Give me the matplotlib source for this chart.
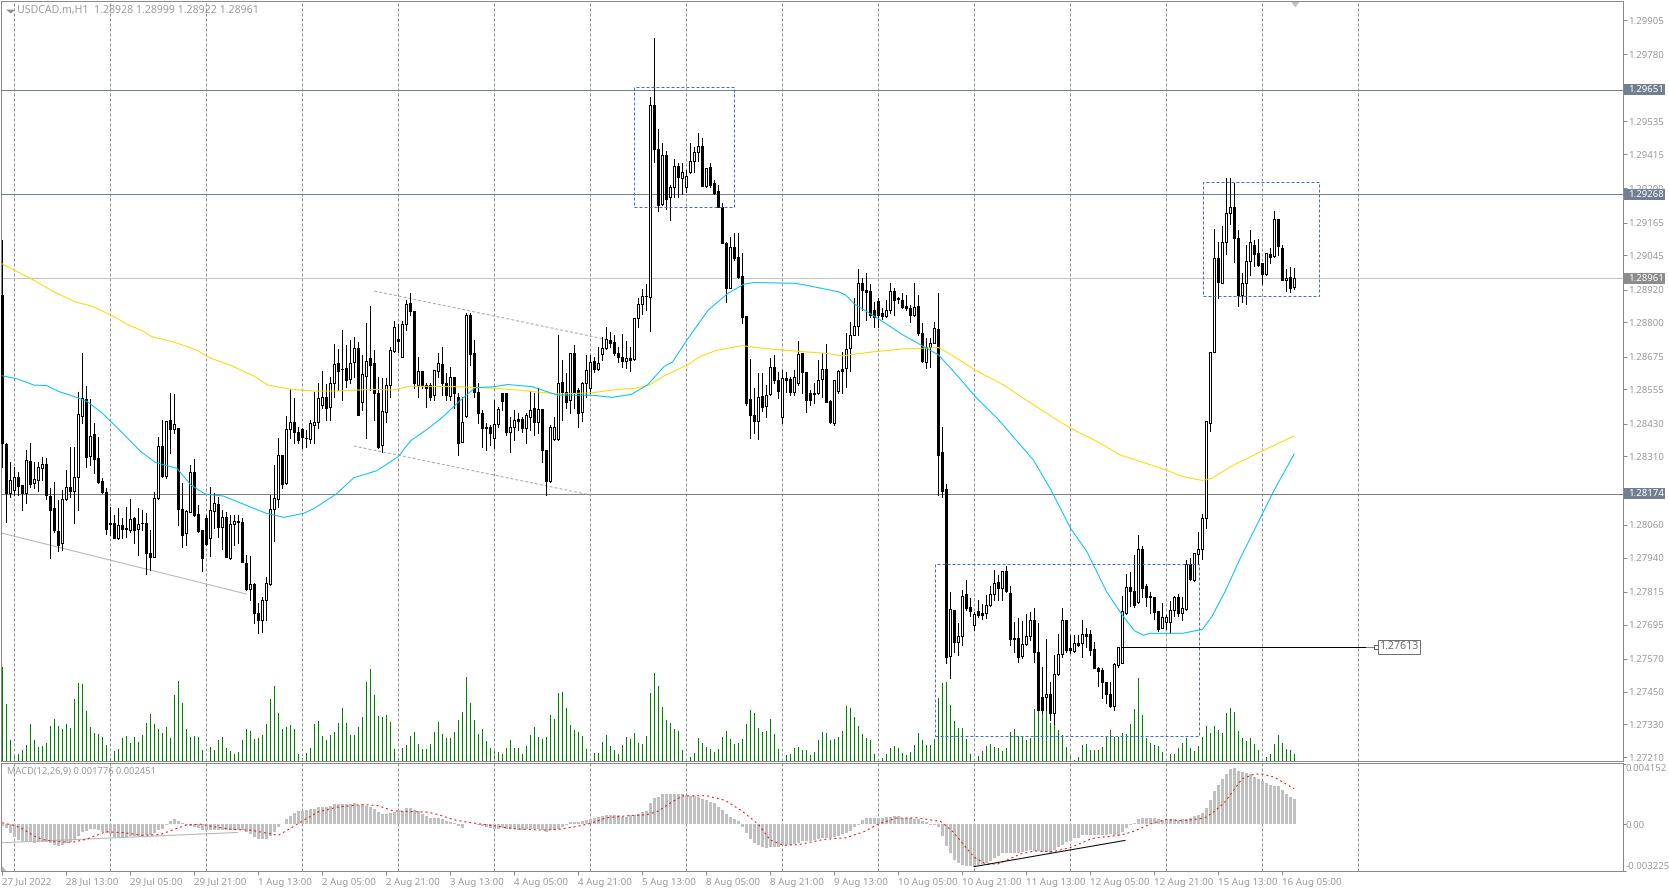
import matplotlib

matplotlib.use("Agg")
import matplotlib.pyplot as plt
import numpy as np
from matplotlib.patches import Rectangle

plt.rcParams["font.family"] = ["Noto Sans", "DejaVu Sans"]

PRICE_BASE = 1.27  # candle values below are in points above this price

OPEN_PTS = [
    1900, 1354, 1175, 1187, 1233, 1205, 1175, 1293, 1211, 1223, 1269, 1284, 1167, 1120, 1038, 992, 1156, 1197, 1184, 1233,
    1459, 1519, 1311, 1392, 1303, 1220, 1181, 1063, 1065, 1010, 1058, 1046, 1041, 1083, 1044, 1065, 1065, 955, 943, 1157,
    1348, 1238, 1443, 1409, 1413, 1116, 1029, 1108, 1252, 1098, 1041, 1083, 1010, 1111, 1136, 1053, 1087, 940, 1061, 1070,
    1069, 919, 825, 843, 736, 712, 785, 843, 1116, 1153, 1315, 1211, 1409, 1435, 1399, 1409, 1378, 1374, 1425, 1437,
    1498, 1526, 1489, 1577, 1650, 1628, 1632, 1593, 1654, 1705, 1510, 1605, 1669, 1650, 1541, 1352, 1474, 1571, 1697, 1739,
    1675, 1793, 1872, 1842, 1571, 1622, 1571, 1571, 1534, 1623, 1648, 1577, 1532, 1599, 1528, 1364, 1459, 1827, 1687, 1547,
    1470, 1419, 1419, 1376, 1427, 1541, 1541, 1400, 1416, 1445, 1445, 1413, 1455, 1486, 1437, 1482, 1333, 1221, 1372, 1372,
    1581, 1547, 1516, 1687, 1553, 1474, 1577, 1559, 1659, 1630, 1683, 1705, 1736, 1727, 1687, 1672, 1660, 1669, 1665, 1818,
    1866, 1895, 1894, 2597, 2434, 2232, 2411, 2257, 2296, 2373, 2329, 2296, 2349, 2391, 2424, 2445, 2300, 2367, 2309, 2279,
    2223, 2089, 1925, 2077, 2038, 1971, 1823, 1520, 1461, 1441, 1532, 1495, 1538, 1636, 1589, 1453, 1598, 1593, 1547, 1577,
    1687, 1617, 1541, 1543, 1541, 1592, 1628, 1513, 1433, 1550, 1631, 1632, 1705, 1754, 1788, 1943, 1918, 1915, 1845, 1878,
    1833, 1825, 1845, 1915, 1888, 1882, 1860, 1854, 1827, 1861, 1760, 1656, 1709, 1726, 1776, 1325, 1189, 580, 748, 632,
    654, 807, 760, 693, 745, 736, 736, 766, 806, 849, 830, 891, 809, 643, 645, 581, 623, 653, 712, 593,
    429, 429, 440, 370, 513, 586, 712, 608, 599, 626, 626, 659, 659, 606, 535, 529, 484, 441, 397, 547,
    556, 738, 831, 818, 776, 971, 836, 799, 795, 745, 684, 703, 705, 748, 795, 738, 751, 915, 858, 952,
    970, 1083, 1433, 1693, 2034, 1945, 2093, 2199, 2221, 2107, 1901, 1945, 2026, 2085, 2053, 2016, 1976, 2050, 2043, 2177,
    2074, 1957, 1965, 1928,
]
HIGH_PTS = [
    2101, 1358, 1290, 1272, 1254, 1205, 1333, 1358, 1290, 1290, 1309, 1303, 1193, 1215, 1150, 1187, 1260, 1345, 1345, 1546,
    1687, 1567, 1520, 1431, 1382, 1230, 1193, 1126, 1096, 1120, 1083, 1126, 1154, 1090, 1122, 1114, 1102, 1041, 1181, 1380,
    1443, 1441, 1541, 1537, 1413, 1214, 1114, 1278, 1299, 1132, 1041, 1096, 1197, 1175, 1163, 1114, 1108, 1096, 1096, 1096,
    1083, 949, 947, 848, 773, 797, 870, 1169, 1278, 1378, 1315, 1458, 1555, 1522, 1419, 1413, 1406, 1443, 1547, 1577,
    1622, 1573, 1601, 1720, 1702, 1772, 1717, 1736, 1748, 1730, 1681, 1799, 1860, 1699, 1601, 1595, 1598, 1711, 1806, 1794,
    1806, 1882, 1906, 1842, 1672, 1622, 1577, 1577, 1626, 1690, 1711, 1614, 1638, 1601, 1541, 1528, 1833, 1836, 1736, 1577,
    1480, 1431, 1425, 1516, 1492, 1541, 1541, 1455, 1480, 1467, 1455, 1467, 1550, 1543, 1559, 1482, 1333, 1425, 1455, 1754,
    1662, 1614, 1687, 1717, 1559, 1583, 1681, 1681, 1675, 1711, 1748, 1784, 1766, 1754, 1711, 1758, 1733, 1711, 1815, 1888,
    1921, 1939, 2623, 2841, 2506, 2458, 2427, 2302, 2396, 2382, 2382, 2357, 2455, 2443, 2491, 2473, 2365, 2382, 2321, 2302,
    2235, 2095, 2113, 2126, 2126, 2053, 1823, 1666, 1559, 1614, 1614, 1571, 1671, 1681, 1620, 1626, 1620, 1601, 1626, 1733,
    1687, 1620, 1553, 1577, 1662, 1687, 1720, 1516, 1589, 1626, 1693, 1760, 1803, 1888, 1994, 1961, 1979, 1939, 1876, 1888,
    1851, 1882, 1943, 1925, 1894, 1906, 1900, 1864, 1943, 1900, 1799, 1742, 1742, 1803, 1906, 1419, 1208, 814, 748, 699,
    821, 858, 791, 742, 785, 770, 803, 837, 894, 876, 892, 910, 836, 706, 718, 709, 734, 742, 754, 699,
    541, 642, 486, 584, 660, 754, 712, 657, 657, 657, 712, 681, 675, 632, 541, 535, 486, 486, 553, 614,
    799, 880, 886, 949, 1023, 982, 843, 815, 797, 745, 773, 730, 781, 799, 805, 797, 931, 937, 955, 1035,
    1099, 1438, 1693, 2141, 2093, 2153, 2330, 2328, 2309, 2138, 1979, 2083, 2138, 2101, 2105, 2016, 2053, 2071, 2207, 2177,
    2083, 1995, 2003, 1999,
]
LOW_PTS = [
    1272, 1071, 1162, 1169, 1169, 1114, 1138, 1197, 1193, 1184, 1223, 1156, 939, 1034, 965, 967, 1150, 1162, 1067, 1114,
    1431, 1272, 1278, 1248, 1211, 1175, 1026, 1022, 1010, 1007, 1010, 1016, 1035, 992, 949, 1041, 880, 894, 943, 1153,
    1236, 1230, 1321, 1394, 1059, 980, 986, 1108, 1092, 1035, 891, 986, 946, 1047, 1016, 971, 943, 933, 986, 992,
    923, 821, 785, 702, 663, 667, 712, 840, 1002, 1124, 1193, 1209, 1376, 1358, 1360, 1339, 1345, 1358, 1358, 1413,
    1486, 1443, 1443, 1528, 1553, 1516, 1565, 1577, 1601, 1461, 1480, 1376, 1553, 1443, 1339, 1327, 1437, 1528, 1693, 1693,
    1675, 1772, 1827, 1559, 1528, 1559, 1492, 1516, 1516, 1601, 1534, 1516, 1516, 1486, 1315, 1364, 1455, 1644, 1528, 1431,
    1345, 1333, 1352, 1339, 1419, 1480, 1388, 1327, 1370, 1406, 1400, 1358, 1406, 1388, 1394, 1291, 1169, 1218, 1370, 1370,
    1443, 1486, 1470, 1486, 1419, 1441, 1528, 1541, 1620, 1626, 1662, 1702, 1711, 1681, 1656, 1638, 1632, 1623, 1662, 1782,
    1831, 1845, 1770, 2388, 2209, 2229, 2215, 2174, 2260, 2260, 2270, 2278, 2348, 2351, 2389, 2299, 2296, 2296, 2270, 2224,
    2089, 1876, 1925, 2028, 1961, 1797, 1498, 1378, 1394, 1375, 1477, 1453, 1534, 1577, 1522, 1431, 1547, 1534, 1534, 1571,
    1541, 1474, 1498, 1504, 1537, 1528, 1508, 1431, 1425, 1541, 1541, 1565, 1623, 1754, 1754, 1845, 1809, 1821, 1784, 1784,
    1811, 1821, 1833, 1827, 1870, 1851, 1845, 1803, 1823, 1754, 1656, 1634, 1638, 1723, 1169, 1163, 553, 501, 596, 584,
    620, 748, 726, 675, 724, 714, 718, 764, 785, 785, 785, 815, 620, 596, 559, 571, 620, 638, 559, 382,
    370, 382, 346, 331, 510, 578, 596, 590, 596, 617, 578, 614, 584, 535, 472, 425, 407, 395, 382, 541,
    553, 734, 763, 760, 773, 797, 763, 736, 715, 673, 681, 679, 663, 726, 726, 712, 748, 858, 854, 921,
    933, 1049, 1404, 1693, 1888, 1943, 2050, 2160, 2022, 1861, 1876, 1867, 1973, 2007, 2007, 1940, 1973, 2018, 2040, 2046,
    1955, 1915, 1912, 1922,
]
CLOSE_PTS = [
    1358, 1177, 1223, 1233, 1201, 1175, 1297, 1209, 1226, 1270, 1284, 1169, 1114, 1041, 986, 1156, 1197, 1184, 1233, 1465,
    1522, 1309, 1385, 1300, 1218, 1181, 1046, 1066, 1013, 1059, 1043, 1048, 1080, 1041, 1063, 1066, 955, 943, 1157, 1348,
    1238, 1441, 1409, 1428, 1116, 1021, 1110, 1252, 1096, 1037, 937, 990, 1114, 1138, 1053, 1087, 943, 1061, 1074, 1073,
    925, 825, 842, 736, 712, 785, 846, 1116, 1157, 1315, 1208, 1409, 1435, 1399, 1370, 1382, 1379, 1431, 1437, 1522,
    1526, 1486, 1577, 1648, 1622, 1629, 1589, 1650, 1705, 1461, 1611, 1660, 1644, 1543, 1346, 1476, 1571, 1699, 1782, 1732,
    1794, 1867, 1842, 1577, 1622, 1571, 1562, 1528, 1626, 1650, 1580, 1534, 1599, 1541, 1360, 1435, 1827, 1684, 1547, 1470,
    1415, 1415, 1397, 1428, 1482, 1513, 1400, 1416, 1443, 1439, 1413, 1461, 1480, 1437, 1482, 1333, 1221, 1419, 1419, 1580,
    1547, 1510, 1687, 1547, 1467, 1577, 1626, 1656, 1628, 1653, 1705, 1738, 1726, 1687, 1672, 1660, 1669, 1664, 1815, 1866,
    1895, 1896, 2594, 2434, 2229, 2411, 2251, 2296, 2373, 2333, 2349, 2337, 2389, 2424, 2445, 2300, 2365, 2301, 2272, 2224,
    2089, 1925, 2077, 2034, 1965, 1821, 1504, 1461, 1441, 1528, 1492, 1534, 1636, 1589, 1550, 1595, 1589, 1547, 1599, 1683,
    1620, 1516, 1516, 1538, 1589, 1628, 1510, 1437, 1589, 1623, 1623, 1702, 1754, 1787, 1943, 1918, 1912, 1827, 1821, 1827,
    1825, 1845, 1915, 1882, 1884, 1858, 1854, 1827, 1858, 1760, 1659, 1711, 1723, 1781, 1315, 1185, 578, 751, 632, 653,
    799, 754, 745, 734, 730, 730, 766, 807, 846, 830, 890, 818, 641, 645, 578, 623, 653, 712, 593, 382,
    382, 440, 370, 513, 586, 712, 602, 602, 626, 620, 659, 654, 602, 537, 526, 486, 440, 397, 551, 612,
    743, 831, 819, 766, 971, 827, 797, 795, 742, 680, 724, 724, 747, 797, 738, 754, 915, 860, 955, 970,
    1083, 1438, 1693, 2034, 1949, 2093, 2202, 2221, 2107, 1900, 1945, 2026, 2093, 2049, 2010, 1976, 2053, 2038, 2177, 2081,
    1957, 1963, 1927, 1961,
]
VOLUME = [
    282, 170, 63, 20, 22, 33, 48, 112, 63, 43, 45, 55, 105, 127, 105, 96, 112, 99, 187, 234,
    230, 150, 102, 85, 80, 72, 47, 10, 30, 37, 69, 76, 55, 72, 57, 77, 114, 142, 112, 95,
    85, 102, 70, 198, 240, 174, 95, 72, 75, 72, 33, 5, 42, 33, 62, 72, 38, 30, 20, 28,
    62, 96, 90, 65, 68, 78, 112, 187, 225, 144, 96, 103, 108, 97, 21, 8, 25, 39, 110, 120,
    75, 64, 78, 87, 115, 159, 115, 78, 78, 102, 132, 237, 276, 198, 135, 132, 138, 117, 37, 8,
    39, 48, 75, 87, 50, 36, 36, 50, 87, 117, 82, 68, 68, 87, 122, 147, 252, 174, 122, 80,
    95, 60, 40, 30, 28, 22, 40, 63, 40, 38, 20, 45, 77, 102, 73, 67, 72, 138, 125, 203,
    207, 159, 108, 92, 87, 75, 36, 5, 24, 24, 57, 78, 45, 32, 21, 48, 72, 66, 84, 54,
    51, 75, 204, 264, 225, 162, 123, 114, 96, 90, 33, 5, 12, 24, 69, 54, 42, 36, 27, 36,
    72, 90, 66, 51, 54, 66, 111, 153, 144, 99, 87, 90, 126, 81, 36, 5, 18, 21, 39, 42,
    33, 33, 18, 27, 63, 87, 84, 63, 66, 72, 90, 165, 159, 132, 105, 81, 69, 63, 21, 5,
    9, 21, 39, 45, 39, 24, 18, 27, 48, 84, 63, 48, 48, 66, 189, 234, 237, 168, 120, 99,
    99, 66, 21, 5, 15, 30, 45, 51, 42, 39, 30, 39, 87, 96, 75, 72, 63, 69, 156, 183,
    165, 150, 114, 120, 93, 78, 42, 18, 2, 12, 48, 51, 33, 33, 33, 42, 72, 93, 72, 72,
    84, 81, 111, 156, 249, 138, 69, 54, 48, 45, 27, 2, 21, 21, 39, 54, 69, 39, 30, 45,
    72, 105, 84, 105, 93, 84, 144, 159, 147, 90, 69, 60, 69, 51, 33, 2, 12, 21, 51, 78,
    54, 36, 33, 21,
]
MACD_HIST = [  # millionths
    -138, -299, -598, -874, -1104, -1173, -1196, -1219, -1288, -1219, -1219, -1242, -1334, -1426, -1495, -1449, -1334, -1219, -1035, -828,
    -552, -483, -345, -368, -414, -529, -621, -713, -874, -897, -897, -920, -828, -828, -851, -851, -782, -759, -644, -414,
    -322, -69, 207, 345, 207, 46, -69, -115, -184, -276, -414, -414, -391, -391, -391, -414, -414, -414, -437, -414,
    -414, -529, -713, -874, -1012, -1012, -1012, -828, -552, -230, 23, 322, 575, 805, 897, 943, 989, 1035, 1035, 1196,
    1196, 1196, 1265, 1380, 1380, 1403, 1403, 1403, 1449, 1357, 1311, 1265, 1196, 1081, 874, 713, 713, 805, 874, 989,
    897, 1104, 1104, 1012, 920, 713, 575, 414, 414, 414, 345, 230, 138, 92, -138, -253, -23, -23, 23, -69,
    -138, -207, -299, -368, -322, -276, -345, -368, -368, -391, -391, -368, -368, -345, -368, -414, -529, -437, -391, -345,
    -207, -46, 138, 138, 138, 230, 276, 345, 391, 506, 575, 621, 621, 621, 621, 529, 529, 644, 644, 736,
    851, 897, 1449, 1794, 1886, 2070, 2070, 2070, 2070, 2070, 2070, 2001, 1955, 1955, 1863, 1771, 1702, 1564, 1472, 1196,
    966, 736, 483, 345, 184, -230, -644, -1012, -1334, -1449, -1564, -1633, -1587, -1587, -1587, -1472, -1472, -1449, -1380, -1288,
    -1196, -1150, -1150, -1104, -1058, -966, -966, -989, -920, -828, -667, -621, -483, -230, -46, 276, 391, 391, 414, 391,
    437, 529, 529, 575, 575, 437, 437, 391, 368, 322, 207, 115, -46, -92, -184, -828, -1518, -2024, -2507, -2691,
    -2829, -2875, -2921, -2967, -2829, -2760, -2714, -2530, -2346, -2208, -1978, -1978, -1978, -1978, -1978, -1932, -1863, -1794, -1863, -1863,
    -1932, -1932, -1978, -1794, -1610, -1426, -1219, -1150, -989, -943, -759, -759, -759, -736, -736, -736, -736, -690, -736, -736,
    -552, -276, -69, 69, 368, 414, 414, 414, 414, 345, 299, 345, 345, 345, 299, 322, 322, 414, 575, 644,
    782, 1150, 1656, 2300, 2714, 3105, 3496, 3795, 3864, 3657, 3588, 3542, 3473, 3266, 3151, 2990, 2875, 2737, 2668, 2622,
    2346, 2116, 1909, 1776,
]
SIGNAL_BARS = [
    0, 3, 5, 8, 10, 13, 17.5, 21, 23, 26, 30.7, 35, 39.6, 43, 46, 49.5, 53, 57.5, 62, 66.5, 69, 72, 75.4, 79, 84, 90, 94,
    97.7, 102, 106.6, 110, 113, 117.3, 123, 128, 135, 139, 144, 147, 151, 157, 161, 164, 166.8, 170, 176, 180.7, 185, 189,
    192, 195.3, 199, 205.5, 211, 215.4, 219, 223.4, 228.8, 234.6, 237.7, 243, 246, 249, 254.6, 258, 262.7, 267, 272.5, 279,
    280, 283, 287.4, 291, 295, 300.5, 302.7, 305.7, 310, 313, 315, 318, 323,
]
SIGNAL_VALUES = [
    92, -92, -299, -828, -1058, -1196, -1265, -1058, -828, -529, -598, -782, -713, -368, -69, 0, -184, -368, -414, -644, -782, -299, 276, 851, 1196, 1357, 1288,
    920, 874, 828, 575, 299, 92, -115, -322, -414, -368, -138, 46, 437, 598, 644, 897, 1426, 1955, 1978, 1656, 897, 0,
    -1104, -1472, -1426, -1058, -943, -529, 0, 414, 437, 184, -529, -2300, -2783, -2760, -2070, -1863, -1909, -1633, -989, -782,
    -736, -483, 46, 322, 230, 414, 805, 1541, 3151, 3473, 3473, 3266, 2451,
]
MA_BLUE_BARS = [
    0, 3.9, 7.9, 11.1, 14.2, 18.2, 21.3, 24.9, 28.9, 34.7, 38.3, 43.7, 47.2, 50.8, 55.3, 60.2, 66, 70.4, 75.4, 78, 83.4, 87.9, 93.7,
    99, 102.1, 106.6, 110.2, 114.6, 118.2, 123.1, 126.3, 132.5, 138.8, 147.5, 152.4, 157.3, 161.3, 165.4, 167.6, 171.2, 176.5, 181.4,
    185.4, 188.1, 198.4, 202, 209.1, 210.9, 213.1, 218.9, 225.2, 230.5, 234.1, 238.6, 243.9, 248.8, 252.4, 257.8, 262.2, 267.1, 271.2,
    276.1, 280, 283, 285.3, 286.9, 295.2, 300.1, 302.4, 305.7, 309.7, 314.9, 318, 323,
]
MA_BLUE_PTS = [
    1605, 1593, 1571, 1569, 1547, 1528, 1510, 1470, 1413, 1327, 1288, 1266, 1205, 1172, 1165, 1136, 1102, 1087, 1102, 1120, 1171, 1232, 1258,
    1309, 1367, 1413, 1455, 1516, 1561, 1565, 1573, 1565, 1534, 1534, 1526, 1537, 1571, 1638, 1656, 1736, 1845, 1906,
    1940, 1946, 1943, 1933, 1912, 1900, 1867, 1815, 1754, 1711, 1681, 1608, 1519, 1449, 1388, 1297, 1187, 1047, 961,
    815, 730, 673, 656, 663, 663, 678, 724, 815, 943, 1096, 1187, 1319,
]
MA_GOLD_BARS = [
    0, 7.1, 12.9, 18.2, 22.7, 28, 31.6, 34.7, 37.4, 43.2, 48.6, 52.1, 57.5, 62.9, 66.4, 71.8, 78, 83.4, 92.3, 97.7, 102.1, 113.8, 122.7,
    128.9, 137, 139.5, 147.5, 153.8, 158.2, 161.8, 165.4, 171.2, 174.7, 178.8, 185, 190.4, 200.2, 206, 210, 218, 225.2, 234.1, 237.7,
    243, 250.6, 256, 263.1, 267.1, 273.4, 279.5, 284.7, 291, 295.2, 300.1, 302.4, 307.5, 315, 323,
]
MA_GOLD_PTS = [
    2014, 1961, 1912, 1876, 1858, 1821, 1790, 1772, 1748, 1727, 1699, 1669, 1641, 1604, 1571, 1556, 1549, 1549, 1555, 1553, 1567, 1565, 1559,
    1553, 1541, 1538, 1543, 1555, 1559, 1571, 1604, 1644, 1677, 1699, 1715, 1705, 1693, 1687, 1678, 1693, 1703, 1708, 1678,
    1628, 1569, 1516, 1449, 1413, 1367, 1315, 1291, 1260, 1236, 1222, 1230, 1276, 1330, 1385,
]

AXIS_PRICES = [
    1.29905, 1.29780, 1.29535, 1.29415, 1.29290, 1.29165, 1.29045, 1.28920, 1.28800, 1.28675, 1.28555, 1.28430,
    1.28310, 1.28060, 1.27940, 1.27815, 1.27695, 1.27570, 1.27450, 1.27330, 1.27210,
]
TIME_LABELS = [
    "27 Jul 2022", "28 Jul 13:00", "29 Jul 05:00", "29 Jul 21:00", "1 Aug 13:00", "2 Aug 05:00", "2 Aug 21:00",
    "3 Aug 13:00", "4 Aug 05:00", "4 Aug 21:00", "5 Aug 13:00", "8 Aug 05:00", "8 Aug 21:00", "9 Aug 13:00",
    "10 Aug 05:00", "10 Aug 21:00", "11 Aug 13:00", "12 Aug 05:00", "12 Aug 21:00", "15 Aug 13:00", "16 Aug 05:00",
]
LEVELS = [1.29651, 1.29268, 1.28961, 1.28174]
LEVEL_LINE_COLORS = ["#708090", "#708090", "#c0c0c0", "#808080"]
LEVEL_BOX_COLORS = ["#708090", "#708090", "#8c8c8c", "#708090"]
LEVEL_LABELS = ["1.29651", "1.29268", "1.28961", "1.28174"]

# left bar, right bar, top points, bottom points
BOX_LEFT = [158, 233.1, 300.1]
BOX_RIGHT = [183, 299.1, 329.1]
BOX_TOP = [2660, 915, 2315]
BOX_BOTTOM = [2224, 286, 1895]

TREND_SOLID = ([0, 61], [1029, 807])
TREND_DASH_UP = ([93, 151], [1915, 1738])
TREND_DASH_LOW = ([87.9, 147], [1348, 1169])
MACD_GREY_LINE = ([0, 58.8], [-1291, -577])
MACD_BLACK_LINE = ([243, 280.7], [-2950, -1130])
TARGET_PRICE = 1.27613
TARGET_BARS = (280, 341, 343.4)

DPI = 100
WIDTH, HEIGHT = 1669, 891
LEFT, RIGHT = 1.4, 1622.8
MAIN_TOP, MAIN_BOTTOM = 1.3, 761.0
MACD_TOP, MACD_BOTTOM = 763.0, 871.3
TEXT_GREY = "#9c9c9c"
FRAME_GREY = "#8a8a8a"
PX = 72 / DPI


def make_axes(top, bottom):
    rect = [LEFT / WIDTH, 1 - bottom / HEIGHT, (RIGHT - LEFT) / WIDTH, (bottom - top) / HEIGHT]
    return fig.add_axes(rect)


def pts_to_price(values):
    return PRICE_BASE + np.asarray(values, dtype=float) / 1e5


fig = plt.figure(figsize=(WIDTH / DPI, HEIGHT / DPI), dpi=DPI)
ax = make_axes(MAIN_TOP, MAIN_BOTTOM)
ax_vol = ax.twinx()
ax_macd = make_axes(MACD_TOP, MACD_BOTTOM)

xlim = (-0.2, (RIGHT - 2.2) / 4)
ax.set_xlim(xlim)
ax_macd.set_xlim(xlim)
ax.set_ylim(1.27196, 1.299745)
ax_vol.set_ylim(0, (MAIN_BOTTOM - MAIN_TOP) * 3)
ax_macd.set_ylim(-0.003275, 0.004244)

ax_vol.set_zorder(ax.get_zorder() - 1)
ax.patch.set_visible(False)
ax_vol.yaxis.set_visible(False)

# day separators
for bar in range(3, 340, 24):
    for a in (ax, ax_macd):
        a.axvline(bar, color="#909090", lw=PX, ls=(0, (3, 2)), zorder=1)

for price, color in zip(LEVELS, LEVEL_LINE_COLORS):
    ax.axhline(price, color=color, lw=PX, zorder=1)

xs = np.arange(len(OPEN_PTS))
opens = pts_to_price(OPEN_PTS)
highs = pts_to_price(HIGH_PTS)
lows = pts_to_price(LOW_PTS)
closes = pts_to_price(CLOSE_PTS)

ax_vol.vlines(np.arange(len(VOLUME)), 0, VOLUME, color="#008000", lw=PX, antialiased=False)

ax.vlines(xs, lows, highs, color="black", lw=PX, antialiased=False, zorder=3)
bull = closes >= opens
ax.bar(xs[bull], (closes - opens)[bull], bottom=opens[bull], width=0.5, facecolor="white",
       edgecolor="black", lw=PX, antialiased=False, zorder=4)
ax.bar(xs[~bull], (opens - closes)[~bull], bottom=closes[~bull], width=0.5, facecolor="black",
       edgecolor="black", lw=PX, antialiased=False, zorder=4)

ax.plot(MA_GOLD_BARS, pts_to_price(MA_GOLD_PTS), color="#ffd700", lw=PX, zorder=5)
ax.plot(MA_BLUE_BARS, pts_to_price(MA_BLUE_PTS), color="#00bfff", lw=PX, zorder=5)

ax.plot(TREND_SOLID[0], pts_to_price(TREND_SOLID[1]), color="#b4b4b4", lw=PX, zorder=2)
for bars, vals in (TREND_DASH_UP, TREND_DASH_LOW):
    ax.plot(bars, pts_to_price(vals), color="#a9a9a9", lw=PX, ls=(0, (3, 2)), zorder=2)

for left, right, top, bottom in zip(BOX_LEFT, BOX_RIGHT, BOX_TOP, BOX_BOTTOM):
    low = pts_to_price(bottom)
    ax.add_patch(Rectangle((left, low), right - left, pts_to_price(top) - low, fill=False,
                           edgecolor="#4169e1", lw=PX, ls=(0, (3, 2)), zorder=6))

# target line with its price tag
ax.plot(TARGET_BARS[:2], [TARGET_PRICE] * 2, color="black", lw=PX, zorder=6)
ax.plot(TARGET_BARS[1:], [TARGET_PRICE] * 2, color="#808080", lw=PX, zorder=6)
ax.plot(TARGET_BARS[2], TARGET_PRICE, marker="s", ms=2.2, mfc="white", mec="#606060", mew=PX, zorder=7)
ax.text(344.3, TARGET_PRICE, "1.27613", color="#6e6e6e", fontsize=7.6, ha="left", va="center", zorder=7,
        bbox=dict(boxstyle="square,pad=0.1", fc="white", ec="#707070", lw=PX))

# MACD panel
macd = np.asarray(MACD_HIST) / 1e6
ax_macd.bar(np.arange(len(macd)), macd, width=0.75, color="#c0c0c0", lw=0, antialiased=False, zorder=2)
ax_macd.plot(MACD_GREY_LINE[0], np.asarray(MACD_GREY_LINE[1]) / 1e6, color="#b4b4b4", lw=PX, zorder=3)
ax_macd.plot(SIGNAL_BARS, np.asarray(SIGNAL_VALUES) / 1e6, color="red", lw=PX, ls=(0, (2, 3)), zorder=4)
ax_macd.plot(MACD_BLACK_LINE[0], np.asarray(MACD_BLACK_LINE[1]) / 1e6, color="black", lw=PX, zorder=5)
ax_macd.fill([0, 0, 0.0031], [0, 0.055, 0], color="#b0b0b0", lw=0, transform=ax_macd.transAxes)

# frames and axis text
for a in (ax, ax_macd):
    for spine in a.spines.values():
        spine.set_color(FRAME_GREY)
        spine.set_linewidth(PX)
for spine in ax_vol.spines.values():
    spine.set_visible(False)

ax.set_xticks([])
ax.yaxis.tick_right()
ax.set_yticks(AXIS_PRICES, [f"{p:.5f}" for p in AXIS_PRICES])
ax.tick_params(axis="y", length=3, width=PX, color=FRAME_GREY, labelcolor=TEXT_GREY, labelsize=6.9, pad=0.5)

ax_macd.yaxis.tick_right()
ax_macd.set_yticks([0.004152, 0.0, -0.003225], ["0.004152", "0.00", "-0.003225"])
ax_macd.tick_params(axis="y", length=2, width=PX, color=FRAME_GREY, labelcolor=TEXT_GREY, labelsize=6.9, pad=0.3)
macd_labels = ax_macd.get_yticklabels()
macd_labels[0].set_verticalalignment("top")
macd_labels[2].set_verticalalignment("bottom")

ax_macd.set_xticks(range(0, 16 * len(TIME_LABELS), 16), TIME_LABELS)
ax_macd.tick_params(axis="x", length=3, width=PX, color=FRAME_GREY, labelcolor=TEXT_GREY, labelsize=7.0, pad=1.5)
for label in ax_macd.get_xticklabels():
    label.set_horizontalalignment("left")

# highlighted price tags on the right axis
tag_transform = ax.get_yaxis_transform()
tag_height = 11 * (ax.get_ylim()[1] - ax.get_ylim()[0]) / (MAIN_BOTTOM - MAIN_TOP)
for price, color, text in zip(LEVELS, LEVEL_BOX_COLORS, LEVEL_LABELS):
    ax.add_patch(Rectangle((1.0007, price - tag_height / 2), 41 / (RIGHT - LEFT), tag_height, transform=tag_transform,
                           facecolor=color, edgecolor="none", clip_on=False, zorder=7))
    ax.text(1.0033, price, text, transform=tag_transform, color="white", fontsize=6.9, ha="left", va="center",
            zorder=8, clip_on=False)

fig.text(17 / WIDTH, 1 - 10 / HEIGHT, "USDCAD.m,H1  1.28928 1.28999 1.28922 1.28961", color=TEXT_GREY,
         fontsize=7.6, ha="left", va="center")
fig.text(6.5 / WIDTH, 1 - 771.7 / HEIGHT, "MACD(12,26,9) 0.001776 0.002451", color=TEXT_GREY,
         fontsize=6.7, ha="left", va="center")

# little chart markers on the top edge
ax.fill([0.0029, 0.0085, 0.0057], [0.989, 0.989, 0.984], color="#8c8c8c", lw=0, transform=ax.transAxes)
ax.fill([0.7955, 0.8005, 0.798], [0.999, 0.999, 0.992], color="#c0c0c0", lw=0, transform=ax.transAxes)

fig.savefig("out.png", dpi=DPI)
